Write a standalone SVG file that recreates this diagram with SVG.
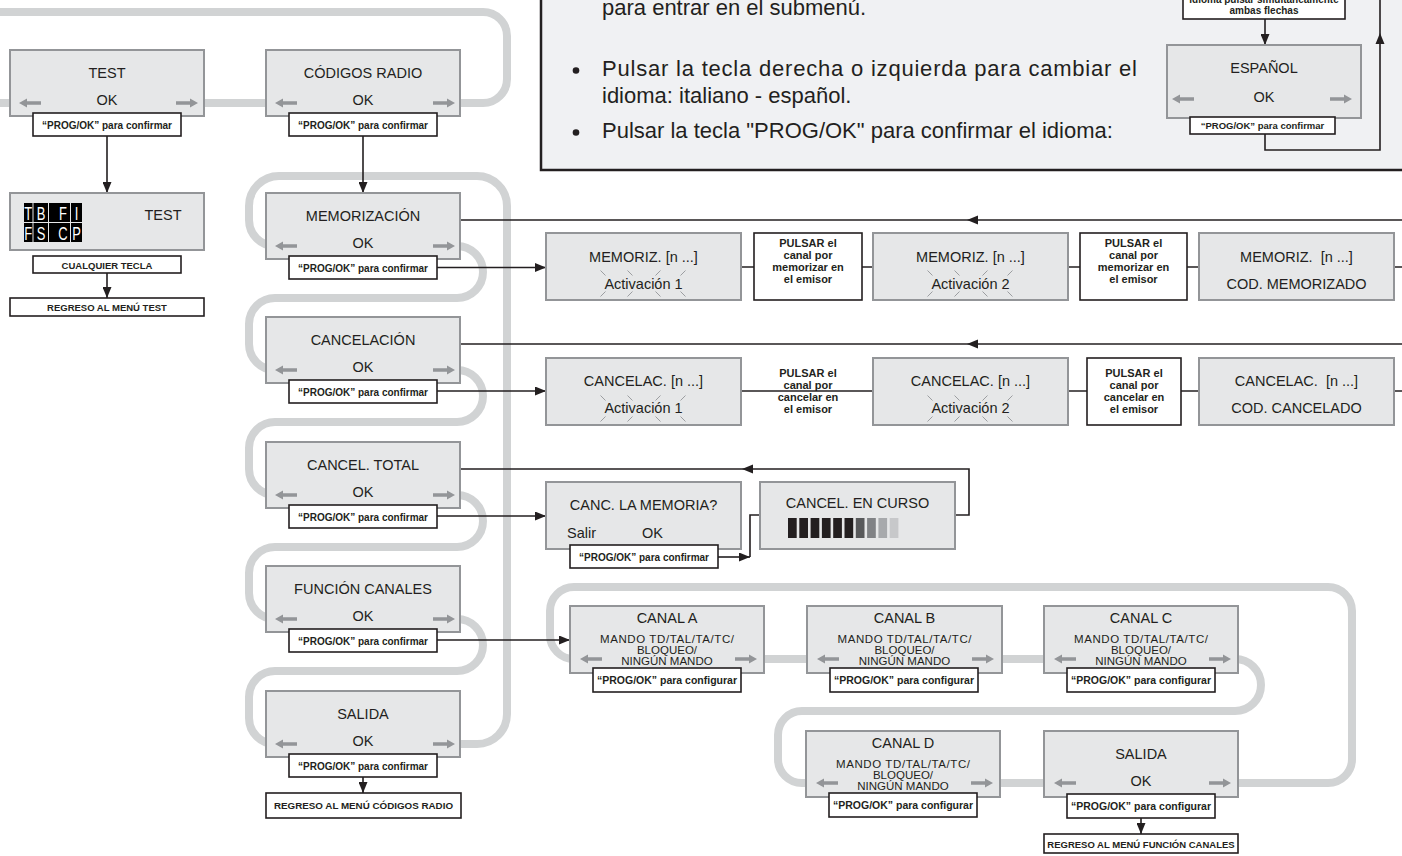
<svg xmlns="http://www.w3.org/2000/svg" xmlns:xlink="http://www.w3.org/1999/xlink" width="1402" height="856" viewBox="0 0 1402 856">
<defs>
<style>
.g{fill:none;stroke:#d1d3d4;stroke-width:8}
.box{fill:#e6e7e8;stroke:#939598;stroke-width:2}
.lbl{fill:#fff;stroke:#231f20;stroke-width:1.6}
.ln{fill:none;stroke:#231f20;stroke-width:1.6}
.t{font-family:"Liberation Sans",Arial,sans-serif;fill:#231f20;font-size:14.5px;text-anchor:middle}
.s{font-family:"Liberation Sans",Arial,sans-serif;fill:#231f20;font-size:11.5px;text-anchor:middle}
.b{font-family:"Liberation Sans",Arial,sans-serif;fill:#231f20;font-size:10px;font-weight:bold;text-anchor:middle}
.bc{font-family:"Liberation Sans",Arial,sans-serif;fill:#231f20;font-size:10.5px;font-weight:bold;text-anchor:middle}
.p{font-family:"Liberation Sans",Arial,sans-serif;fill:#231f20;font-size:11px;font-weight:bold;text-anchor:middle}
.h{font-family:"Liberation Sans",Arial,sans-serif;fill:#231f20;font-size:22px}
.ga{fill:#939598}
.tk{stroke:#939598;stroke-width:0.9;fill:none}
.w{font-family:"Liberation Sans",Arial,sans-serif;fill:#fff;font-size:18px;text-anchor:middle}
.ah{fill:#231f20}
</style>
<path id="la" d="M0,0 L8,-4.5 L8,-1.7 L22,-1.7 L22,1.7 L8,1.7 L8,4.5 Z"/>
<path id="ra" d="M0,0 L-8,-4.5 L-8,-1.7 L-22,-1.7 L-22,1.7 L-8,1.7 L-8,4.5 Z"/>
<g id="spk" class="tk">
<path d="M-43,-13 L-38,-8 M-16,-13 L-11,-8 M12,-8 L17,-13 M37,-8 L42,-13 M-43,13 L-38,8 M-16,13 L-11,8 M12,8 L17,13 M37,8 L42,13"/>
</g>
<marker id="m" viewBox="0 0 11 9" refX="11" refY="4.5" markerWidth="11" markerHeight="9" markerUnits="userSpaceOnUse" orient="auto"><path d="M0,0 L11,4.5 L0,9 Z" fill="#231f20"/></marker>
</defs>
<rect x="0" y="0" width="1402" height="856" fill="#fff"/>

<g id="panel">
<rect x="541" y="-10" width="875" height="180" fill="#f0f1f3" stroke="#231f20" stroke-width="2.5"/>
<text class="h" x="602" y="15">para entrar en el submenú.</text>
<circle cx="576" cy="70.5" r="3.3" fill="#231f20"/>
<text class="h" x="602" y="76" textLength="535" lengthAdjust="spacing">Pulsar la tecla derecha o izquierda para cambiar el</text>
<text class="h" x="602" y="103">idioma: italiano - español.</text>
<circle cx="576" cy="132.5" r="3.3" fill="#231f20"/>
<text class="h" x="602" y="138">Pulsar la tecla "PROG/OK" para confirmar el idioma:</text>
</g>

<g id="lang-hint">
<rect class="lbl" x="1183" y="-10" width="162" height="29"/>
<text class="b" x="1264" y="3">idioma pulsar simultaneamente</text>
<text class="b" x="1264" y="14">ambas flechas</text>
</g>

<g id="gray-loops">
<path class="g" d="M0,12 H483 A24,24 0 0 1 507,36 V79 A24,24 0 0 1 483,103 H450"/>
<path class="g" d="M0,103 H20 M190,103 H280"/>
<path class="g" d="M300,246 H275 A26,26 0 0 1 249,220 V206 A30,30 0 0 1 279,176 H477 A30,30 0 0 1 507,206 V714 A30,30 0 0 1 477,744 H450"/>
<path class="g" d="M440,246 H457 A26,26 0 0 1 457,298 H275 A26,26 0 0 0 249,324 V344 A26,26 0 0 0 275,370 H300"/>
<path class="g" d="M440,370 H457 A26,26 0 0 1 457,422 H275 A26,26 0 0 0 249,448 V469 A26,26 0 0 0 275,495 H300"/>
<path class="g" d="M440,495 H457 A26,26 0 0 1 457,547 H275 A26,26 0 0 0 249,573 V593 A26,26 0 0 0 275,619 H300"/>
<path class="g" d="M440,619 H457 A26,26 0 0 1 457,671 H275 A26,26 0 0 0 249,697 V718 A26,26 0 0 0 275,744 H300"/>
<path class="g" d="M590,659 H574 A24,24 0 0 1 550,635 V611 A24,24 0 0 1 574,587 H1328 A24,24 0 0 1 1352,611 V759 A24,24 0 0 1 1328,783 H1220"/>
<path class="g" d="M750,659 H1060"/>
<path class="g" d="M1225,659 H1235 A26,26 0 0 1 1235,711 H802 A24,24 0 0 0 778,735 V759 A24,24 0 0 0 802,783 H1060"/>
</g>

<g id="connectors">
<path class="ln" d="M107,136 V193" marker-end="url(#m)"/>
<path class="ln" d="M107,273 V298" marker-end="url(#m)"/>
<path class="ln" d="M363,136 V193" marker-end="url(#m)"/>
<path class="ln" d="M363,777 V793" marker-end="url(#m)"/>
<path class="ln" d="M460,220 H1402"/>
<polygon class="ah" points="967,220 978,215.5 978,224.5"/>
<path class="ln" d="M437,267.5 H546" marker-end="url(#m)"/>
<path class="ln" d="M741,267 H1402"/>
<path class="ln" d="M460,344 H1402"/>
<polygon class="ah" points="967,344 978,339.5 978,348.5"/>
<path class="ln" d="M437,391 H546" marker-end="url(#m)"/>
<path class="ln" d="M741,391 H1402"/>
<path class="ln" d="M955,515 H969 V469 H460"/>
<polygon class="ah" points="742,469 753,464.5 753,473.5"/>
<path class="ln" d="M437,516 H546" marker-end="url(#m)"/>
<path class="ln" d="M718,557 H750" marker-end="url(#m)"/>
<path class="ln" d="M750,557 V515 H760"/>
<path class="ln" d="M437,640 H570" marker-end="url(#m)"/>
<path class="ln" d="M1141,818 V834" marker-end="url(#m)"/>
<path class="ln" d="M1265,19 V45" marker-end="url(#m)"/>
<path class="ln" d="M1265,134 V150 H1380 V-5"/>
<polygon class="ah" points="1380,33 1375.5,44 1384.5,44"/>
</g>

<g id="n-test">
<rect class="box" x="10" y="50" width="194" height="66"/>
<text class="t" x="107" y="78">TEST</text>
<text class="t" x="107" y="105">OK</text>
<use href="#la" x="19" y="103" class="ga"/>
<use href="#ra" x="198" y="103" class="ga"/>
<rect class="lbl" x="33" y="113" width="148" height="23"/>
<text class="b" x="107" y="128.5">“PROG/OK” para confirmar</text>
</g>

<g id="n-test-display">
<rect class="box" x="10" y="193" width="194" height="57"/>
<g fill="#000">
<rect x="24" y="203" width="8.5" height="19"/><rect x="33.5" y="203" width="14.5" height="19"/><rect x="49" y="203" width="21" height="19"/><rect x="71" y="203" width="11" height="19"/>
<rect x="24" y="223" width="8.5" height="19"/><rect x="33.5" y="223" width="14.5" height="19"/><rect x="49" y="223" width="21" height="19"/><rect x="71" y="223" width="11" height="19"/>
</g>
<text class="w" transform="translate(28.3 219.5) scale(0.72 1)">T</text>
<text class="w" transform="translate(41 219.5) scale(0.72 1)">B</text>
<text class="w" transform="translate(63 219.5) scale(0.72 1)">F</text>
<text class="w" transform="translate(76.5 219.5) scale(0.72 1)">I</text>
<text class="w" transform="translate(28.3 239.5) scale(0.72 1)">F</text>
<text class="w" transform="translate(41 239.5) scale(0.72 1)">S</text>
<text class="w" transform="translate(63 239.5) scale(0.72 1)">C</text>
<text class="w" transform="translate(76.5 239.5) scale(0.72 1)">P</text>
<text class="t" x="163" y="220">TEST</text>
<rect class="lbl" x="33" y="256" width="148" height="17"/>
<text class="b" x="107" y="268.5" style="font-size:9.5px">CUALQUIER TECLA</text>
</g>

<g id="n-test-back">
<rect class="lbl" x="10" y="298" width="194" height="18"/>
<text class="b" x="107" y="310.5" style="font-size:9.5px">REGRESO AL MENÚ TEST</text>
</g>

<g id="n-codigos">
<rect class="box" x="266" y="50" width="194" height="66"/>
<text class="t" x="363" y="78">CÓDIGOS RADIO</text>
<text class="t" x="363" y="105">OK</text>
<use href="#la" x="275" y="103" class="ga"/>
<use href="#ra" x="455" y="103" class="ga"/>
<rect class="lbl" x="289" y="113" width="148" height="23"/>
<text class="b" x="363" y="128.5">“PROG/OK” para confirmar</text>
</g>

<g id="n-memorizacion">
<rect class="box" x="266" y="193" width="194" height="66"/>
<text class="t" x="363" y="220.5">MEMORIZACIÓN</text>
<text class="t" x="363" y="248">OK</text>
<use href="#la" x="275" y="246" class="ga"/>
<use href="#ra" x="455" y="246" class="ga"/>
<rect class="lbl" x="289" y="256" width="148" height="23"/>
<text class="b" x="363" y="271.5">“PROG/OK” para confirmar</text>
</g>

<g id="n-cancelacion">
<rect class="box" x="266" y="317" width="194" height="66"/>
<text class="t" x="363" y="344.5">CANCELACIÓN</text>
<text class="t" x="363" y="372">OK</text>
<use href="#la" x="275" y="370" class="ga"/>
<use href="#ra" x="455" y="370" class="ga"/>
<rect class="lbl" x="289" y="380" width="148" height="23"/>
<text class="b" x="363" y="395.5">“PROG/OK” para confirmar</text>
</g>

<g id="n-cancel-total">
<rect class="box" x="266" y="442" width="194" height="66"/>
<text class="t" x="363" y="469.5">CANCEL. TOTAL</text>
<text class="t" x="363" y="497">OK</text>
<use href="#la" x="275" y="495" class="ga"/>
<use href="#ra" x="455" y="495" class="ga"/>
<rect class="lbl" x="289" y="505" width="148" height="23"/>
<text class="b" x="363" y="520.5">“PROG/OK” para confirmar</text>
</g>

<g id="n-funcion-canales">
<rect class="box" x="266" y="566" width="194" height="66"/>
<text class="t" x="363" y="593.5">FUNCIÓN CANALES</text>
<text class="t" x="363" y="621">OK</text>
<use href="#la" x="275" y="619" class="ga"/>
<use href="#ra" x="455" y="619" class="ga"/>
<rect class="lbl" x="289" y="629" width="148" height="23"/>
<text class="b" x="363" y="644.5">“PROG/OK” para confirmar</text>
</g>

<g id="n-salida">
<rect class="box" x="266" y="691" width="194" height="66"/>
<text class="t" x="363" y="718.5">SALIDA</text>
<text class="t" x="363" y="746">OK</text>
<use href="#la" x="275" y="744" class="ga"/>
<use href="#ra" x="455" y="744" class="ga"/>
<rect class="lbl" x="289" y="754" width="148" height="23"/>
<text class="b" x="363" y="769.5">“PROG/OK” para confirmar</text>
</g>

<g id="n-codigos-back">
<rect class="lbl" x="266" y="793" width="195" height="25"/>
<text class="b" x="363.5" y="809" style="font-size:9.8px">REGRESO AL MENÚ CÓDIGOS RADIO</text>
</g>

<g id="n-memoriz-1">
<rect class="box" x="546" y="233" width="195" height="67"/>
<text class="t" x="643.5" y="262">MEMORIZ. [n ...]</text>
<text class="t" x="643.5" y="288.5">Activación 1</text>
<use href="#spk" x="643.5" y="283.5"/>
</g>
<g id="n-pulsar-m1">
<rect class="lbl" x="754" y="233" width="108" height="67"/>
<text class="p" x="808" y="247">PULSAR el</text>
<text class="p" x="808" y="259">canal por</text>
<text class="p" x="808" y="271">memorizar en</text>
<text class="p" x="808" y="283">el emisor</text>
</g>
<g id="n-memoriz-2">
<rect class="box" x="873" y="233" width="195" height="67"/>
<text class="t" x="970.5" y="262">MEMORIZ. [n ...]</text>
<text class="t" x="970.5" y="288.5">Activación 2</text>
<use href="#spk" x="970.5" y="283.5"/>
</g>
<g id="n-pulsar-m2">
<rect class="lbl" x="1080" y="233" width="107" height="67"/>
<text class="p" x="1133.5" y="247">PULSAR el</text>
<text class="p" x="1133.5" y="259">canal por</text>
<text class="p" x="1133.5" y="271">memorizar en</text>
<text class="p" x="1133.5" y="283">el emisor</text>
</g>
<g id="n-memoriz-ok">
<rect class="box" x="1199" y="233" width="195" height="67"/>
<text class="t" x="1296.5" y="262" xml:space="preserve">MEMORIZ.  [n ...]</text>
<text class="t" x="1296.5" y="288.5">COD. MEMORIZADO</text>
</g>

<g id="n-cancelac-1">
<rect class="box" x="546" y="358" width="195" height="67"/>
<text class="t" x="643.5" y="385.5">CANCELAC. [n ...]</text>
<text class="t" x="643.5" y="413">Activación 1</text>
<use href="#spk" x="643.5" y="408.5"/>
</g>
<g id="n-pulsar-c1">
<text class="p" x="808" y="377">PULSAR el</text>
<text class="p" x="808" y="389">canal por</text>
<text class="p" x="808" y="401">cancelar en</text>
<text class="p" x="808" y="413">el emisor</text>
</g>
<g id="n-cancelac-2">
<rect class="box" x="873" y="358" width="195" height="67"/>
<text class="t" x="970.5" y="385.5">CANCELAC. [n ...]</text>
<text class="t" x="970.5" y="413">Activación 2</text>
<use href="#spk" x="970.5" y="408.5"/>
</g>
<g id="n-pulsar-c2">
<rect class="lbl" x="1087" y="358" width="94" height="67"/>
<text class="p" x="1134" y="377">PULSAR el</text>
<text class="p" x="1134" y="389">canal por</text>
<text class="p" x="1134" y="401">cancelar en</text>
<text class="p" x="1134" y="413">el emisor</text>
</g>
<g id="n-cancelac-ok">
<rect class="box" x="1199" y="358" width="195" height="67"/>
<text class="t" x="1296.5" y="385.5" xml:space="preserve">CANCELAC.  [n ...]</text>
<text class="t" x="1296.5" y="413">COD. CANCELADO</text>
</g>

<g id="n-canc-memoria">
<rect class="box" x="546" y="482" width="195" height="67"/>
<text class="t" x="643.5" y="510">CANC. LA MEMORIA?</text>
<text class="t" x="567" y="538" style="text-anchor:start">Salir</text>
<text class="t" x="642" y="538" style="text-anchor:start">OK</text>
<rect class="lbl" x="570" y="545" width="148" height="23"/>
<text class="b" x="644" y="560.5">“PROG/OK” para confirmar</text>
</g>

<g id="n-cancel-curso">
<rect class="box" x="760" y="482" width="195" height="67"/>
<text class="t" x="857.5" y="508">CANCEL. EN CURSO</text>
<rect x="788" y="518" width="8.7" height="20" fill="#231f20"/>
<rect x="799.3" y="518" width="8.7" height="20" fill="#231f20"/>
<rect x="810.6" y="518" width="8.7" height="20" fill="#231f20"/>
<rect x="821.9" y="518" width="8.7" height="20" fill="#231f20"/>
<rect x="833.2" y="518" width="8.7" height="20" fill="#231f20"/>
<rect x="844.5" y="518" width="8.7" height="20" fill="#231f20"/>
<rect x="855.8" y="518" width="8.7" height="20" fill="#58595b"/>
<rect x="867.1" y="518" width="8.7" height="20" fill="#808285"/>
<rect x="878.4" y="518" width="8.7" height="20" fill="#a7a9ac"/>
<rect x="889.7" y="518" width="8.7" height="20" fill="#c7c8ca"/>
</g>

<g id="n-canal-a">
<rect class="box" x="570" y="606" width="194" height="67"/>
<text class="t" x="667" y="623">CANAL A</text>
<text class="s" x="667" y="643" textLength="134" lengthAdjust="spacing">MANDO TD/TAL/TA/TC/</text>
<text class="s" x="667" y="654">BLOQUEO/</text>
<text class="s" x="667" y="665">NINGÚN MANDO</text>
<use href="#la" x="580" y="659" class="ga"/>
<use href="#ra" x="757" y="659" class="ga"/>
<rect class="lbl" x="593" y="668" width="148" height="24"/>
<text class="bc" x="667" y="684">“PROG/OK” para configurar</text>
</g>

<g id="n-canal-b">
<rect class="box" x="807" y="606" width="195" height="67"/>
<text class="t" x="904.5" y="623">CANAL B</text>
<text class="s" x="904.5" y="643" textLength="134" lengthAdjust="spacing">MANDO TD/TAL/TA/TC/</text>
<text class="s" x="904.5" y="654">BLOQUEO/</text>
<text class="s" x="904.5" y="665">NINGÚN MANDO</text>
<use href="#la" x="817" y="659" class="ga"/>
<use href="#ra" x="994" y="659" class="ga"/>
<rect class="lbl" x="830" y="668" width="148" height="24"/>
<text class="bc" x="904" y="684">“PROG/OK” para configurar</text>
</g>

<g id="n-canal-c">
<rect class="box" x="1044" y="606" width="194" height="67"/>
<text class="t" x="1141" y="623">CANAL C</text>
<text class="s" x="1141" y="643" textLength="134" lengthAdjust="spacing">MANDO TD/TAL/TA/TC/</text>
<text class="s" x="1141" y="654">BLOQUEO/</text>
<text class="s" x="1141" y="665">NINGÚN MANDO</text>
<use href="#la" x="1054" y="659" class="ga"/>
<use href="#ra" x="1231" y="659" class="ga"/>
<rect class="lbl" x="1067" y="668" width="148" height="24"/>
<text class="bc" x="1141" y="684">“PROG/OK” para configurar</text>
</g>

<g id="n-canal-d">
<rect class="box" x="806" y="731" width="194" height="66"/>
<text class="t" x="903" y="748">CANAL D</text>
<text class="s" x="903" y="768" textLength="134" lengthAdjust="spacing">MANDO TD/TAL/TA/TC/</text>
<text class="s" x="903" y="779">BLOQUEO/</text>
<text class="s" x="903" y="790">NINGÚN MANDO</text>
<use href="#la" x="816" y="783" class="ga"/>
<use href="#ra" x="993" y="783" class="ga"/>
<rect class="lbl" x="829" y="793" width="148" height="24"/>
<text class="bc" x="903" y="809">“PROG/OK” para configurar</text>
</g>

<g id="n-salida-canales">
<rect class="box" x="1044" y="731" width="194" height="66"/>
<text class="t" x="1141" y="759">SALIDA</text>
<text class="t" x="1141" y="785.5">OK</text>
<use href="#la" x="1054" y="783" class="ga"/>
<use href="#ra" x="1231" y="783" class="ga"/>
<rect class="lbl" x="1067" y="794" width="148" height="24"/>
<text class="bc" x="1141" y="810">“PROG/OK” para configurar</text>
</g>

<g id="n-canales-back">
<rect class="lbl" x="1044" y="834" width="194" height="19"/>
<text class="b" x="1141" y="847.5" style="font-size:9.5px">REGRESO AL MENÚ FUNCIÓN CANALES</text>
</g>

<g id="n-espanol">
<rect class="box" x="1167" y="45" width="194" height="73"/>
<text class="t" x="1264" y="73">ESPAÑOL</text>
<text class="t" x="1264" y="102">OK</text>
<use href="#la" x="1172" y="99" class="ga"/>
<use href="#ra" x="1352" y="99" class="ga"/>
<rect class="lbl" x="1190" y="117" width="145" height="17"/>
<text class="b" x="1262.5" y="129" style="font-size:9.5px">“PROG/OK” para confirmar</text>
</g>
</svg>
